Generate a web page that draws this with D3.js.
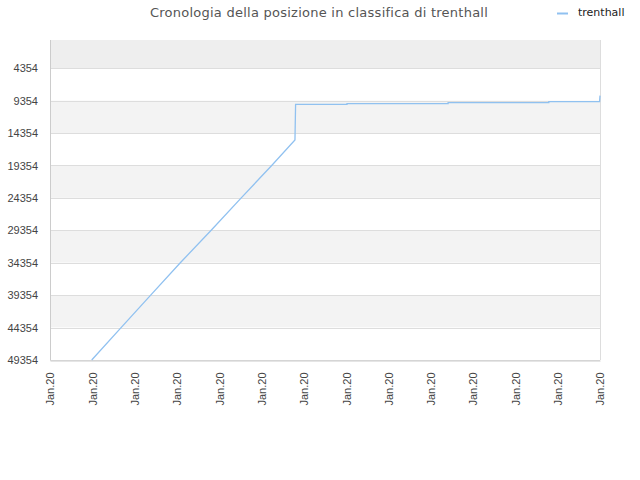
<!DOCTYPE html>
<html><head><meta charset="utf-8">
<script src="https://cdn.jsdelivr.net/npm/d3@7"></script>
<style>body{margin:0;background:#fff;}svg{display:block;font-family:"DejaVu Sans",sans-serif;}</style>
</head><body><div id="chart"></div>
<script>
const title = "Cronologia della posizione in classifica di trenthall";
const seriesName = "trenthall";
const xTickLabels = ["Jan.20","Jan.20","Jan.20","Jan.20","Jan.20","Jan.20","Jan.20","Jan.20","Jan.20","Jan.20","Jan.20","Jan.20","Jan.20","Jan.20"];
const yTicks = [4354, 9354, 14354, 19354, 24354, 29354, 34354, 39354, 44354, 49354];
// time position (in tick units) and rank
const times = [0.986, 1.68, 2.38, 3.08, 3.81, 4.52, 5.24, 5.79, 5.805, 7.02, 7.02, 9.41, 9.41, 11.79, 11.79, 12.99, 13.0];
const ranks = [49354, 44354, 39354, 34354, 29354, 24354, 19354, 15430, 9924, 9924, 9816, 9816, 9662, 9662, 9508, 9508, 8583];

const W = 640, H = 480;
const m = {left: 50, right: 40, top: 40, bottom: 120};
const svg = d3.select("#chart").append("svg").attr("width", W).attr("height", H);
const x = d3.scaleLinear().domain([0, xTickLabels.length - 1]).range([m.left, W - m.right]);
const y = d3.scaleLinear().domain([1, 49354]).range([m.top, H - m.bottom]);

// bands
const bandEdges = [1].concat(yTicks);
for (let i = 0; i < bandEdges.length - 1; i++) {
  const fill = i === 0 ? "#eeeeee" : (i % 2 === 0 ? "#f3f3f3" : "#ffffff");
  svg.append("rect").attr("x", m.left).attr("width", W - m.right - m.left)
    .attr("y", y(bandEdges[i])).attr("height", y(bandEdges[i+1]) - y(bandEdges[i]))
    .attr("fill", fill);
}
// grid
svg.append("g").selectAll("line").data(yTicks).join("line")
  .attr("x1", m.left).attr("x2", W - m.right)
  .attr("y1", d => Math.round(y(d)) + 0.5).attr("y2", d => Math.round(y(d)) + 0.5)
  .attr("stroke", "#dddddd");
// border
svg.append("line").attr("x1", W - m.right + 0.5).attr("x2", W - m.right + 0.5)
  .attr("y1", m.top).attr("y2", H - m.bottom).attr("stroke", "#dddddd");
svg.append("line").attr("x1", m.left + 0.5).attr("x2", m.left + 0.5)
  .attr("y1", m.top).attr("y2", H - m.bottom).attr("stroke", "#cccccc");

// y axis
const yAxis = d3.axisLeft(y).tickValues(yTicks).tickSize(0).tickPadding(12).tickFormat(d => d);
const gy = svg.append("g").attr("transform", `translate(${m.left},0)`).call(yAxis);
gy.select(".domain").remove();
gy.selectAll("text").attr("fill", "#444").style("font-size", "11px");

// x axis
const xAxis = d3.axisBottom(x).tickValues(d3.range(xTickLabels.length)).tickSize(0).tickFormat(i => xTickLabels[i]);
const gx = svg.append("g").attr("transform", `translate(0,${H - m.bottom + 0.5})`).call(xAxis);
gx.select(".domain").attr("stroke", "#cccccc");
gx.selectAll("text").attr("fill", "#444").style("font-size", "11px")
  .attr("transform", "rotate(-90)").attr("text-anchor", "end")
  .attr("x", -12).attr("y", 0).attr("dy", "0.35em");

// line
const pts = times.map((t, i) => [t, ranks[i]]);
svg.append("path").datum(pts)
  .attr("d", d3.line().x(d => x(d[0])).y(d => y(d[1])))
  .attr("fill", "none").attr("stroke", "#90c1f0").attr("stroke-width", 1.3);

// title
svg.append("text").attr("x", 319).attr("y", 17).attr("text-anchor", "middle")
  .attr("fill", "#555").style("font-size", "13px").style("letter-spacing", "0.25px").text(title);
// legend
svg.append("line").attr("x1", 557).attr("x2", 568).attr("y1", 13.5).attr("y2", 13.5)
  .attr("stroke", "#90c1f0").attr("stroke-width", 2);
svg.append("text").attr("x", 578).attr("y", 16).attr("fill", "#222")
  .style("font-size", "11px").text(seriesName);
</script></body></html>
